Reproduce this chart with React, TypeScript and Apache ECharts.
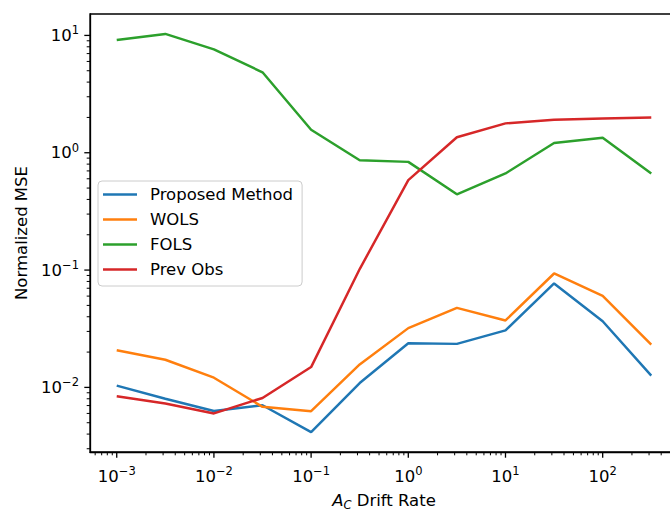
import React, { useEffect, useRef } from 'react';
import * as echarts from 'echarts';

const driftRates = [1e-3, 3.162e-3, 1e-2, 3.162e-2, 1e-1, 3.162e-1, 1, 3.162, 10, 31.62, 100, 316.2];
const proposed = [0.01035, 0.0080, 0.0063, 0.00705, 0.00416, 0.0109, 0.0238, 0.0235, 0.0306, 0.0769, 0.0366, 0.0126];
const wols = [0.0207, 0.0172, 0.0121, 0.00683, 0.00627, 0.0157, 0.032, 0.0476, 0.0372, 0.0935, 0.0603, 0.0231];
const fols = [9.14, 10.3, 7.6, 4.85, 1.57, 0.863, 0.836, 0.442, 0.666, 1.21, 1.34, 0.666];
const prevObs = [0.00841, 0.00728, 0.0060, 0.00813, 0.0149, 0.102, 0.585, 1.355, 1.78, 1.91, 1.96, 2.0];

const seriesNames = ['Proposed Method', 'WOLS', 'FOLS', 'Prev Obs'];
const seriesValues = [proposed, wols, fols, prevObs];
const colors = ['#1f77b4', '#ff7f0e', '#2ca02c', '#d62728'];

const xMajorTicks = [1e-3, 1e-2, 1e-1, 1, 10, 100];
const yMajorTicks = [1e-2, 1e-1, 1, 10];

const FONT = 'DejaVu Sans';
const FS = 16.5;

function logRange(vals: number[]): [number, number] {
  const lo = Math.log10(Math.min(...vals));
  const hi = Math.log10(Math.max(...vals));
  const pad = (hi - lo) * 0.05;
  return [Math.pow(10, lo - pad), Math.pow(10, hi + pad)];
}

function minorTicks(min: number, max: number): number[] {
  const out: number[] = [];
  for (let k = Math.floor(Math.log10(min)); k <= Math.ceil(Math.log10(max)); k++) {
    for (let m = 2; m <= 9; m++) {
      const v = m * Math.pow(10, k);
      if (v >= min && v <= max) out.push(v);
    }
  }
  return out;
}

function supLabel(v: number): string {
  const e = Math.log10(v);
  const r = Math.round(e);
  if (Math.abs(e - r) > 1e-6) return '';
  const s = r < 0 ? '\u2212' + String(-r) : String(r);
  return '{b|10}{sup|' + s + '}';
}

const labelRich = {
  b: { fontFamily: FONT, fontSize: FS, lineHeight: 22, color: '#000' },
  sup: { fontFamily: FONT, fontSize: 11.5, lineHeight: 14, verticalAlign: 'top', color: '#000' },
};

export default function App() {
  const ref = useRef<HTMLDivElement>(null);
  useEffect(() => {
    if (!ref.current) return;
    const chart = echarts.init(ref.current, undefined, { renderer: 'svg' });
    const [xMin, xMax] = logRange(driftRates);
    const [yMin, yMax] = logRange(seriesValues.flat());

    const xTickSeries = (vals: number[], len: number, w: number) => ({
      type: 'custom',
      silent: true,
      clip: false,
      data: vals.map((v) => [v, yMin]),
      renderItem: (_p: any, api: any) => {
        const p = api.coord([api.value(0), api.value(1)]);
        return {
          type: 'line',
          shape: { x1: p[0], y1: p[1], x2: p[0], y2: p[1] + len },
          style: { stroke: '#000', lineWidth: w },
        };
      },
    });
    const yTickSeries = (vals: number[], len: number, w: number) => ({
      type: 'custom',
      silent: true,
      clip: false,
      data: vals.map((v) => [xMin, v]),
      renderItem: (_p: any, api: any) => {
        const p = api.coord([api.value(0), api.value(1)]);
        return {
          type: 'line',
          shape: { x1: p[0], y1: p[1], x2: p[0] - len, y2: p[1] },
          style: { stroke: '#000', lineWidth: w },
        };
      },
    });

    chart.setOption({
      animation: false,
      backgroundColor: '#fff',
      textStyle: { fontFamily: FONT },
      grid: {
        left: 90,
        top: 14,
        width: 588,
        height: 438,
        show: true,
        borderColor: '#000',
        borderWidth: 1.3,
        containLabel: false,
        outerBoundsMode: 'none',
      },
      legend: {
        data: seriesNames,
        orient: 'vertical',
        left: 98,
        top: 181,
        icon: 'rect',
        itemWidth: 34,
        itemHeight: 2.5,
        itemGap: 6,
        backgroundColor: 'rgba(255,255,255,0.8)',
        borderColor: '#cccccc',
        borderWidth: 1,
        borderRadius: 4,
        padding: [4, 9, 7, 5],
        textStyle: { fontFamily: FONT, fontSize: FS, color: '#000', lineHeight: 19, padding: [0, 0, 0, 8] },
      },
      xAxis: {
        type: 'log',
        logBase: 10,
        min: xMin,
        max: xMax,
        axisLine: { show: true, lineStyle: { color: '#000', width: 1.3 } },
        axisTick: { show: false },
        splitLine: { show: false },
        axisLabel: {
          margin: 13,
          formatter: supLabel,
          rich: labelRich,
          showMinLabel: false,
          showMaxLabel: false,
        },
        name: '{i|A}{sub|C}{n| Drift Rate}',
        nameLocation: 'middle',
        nameGap: 38,
        nameTextStyle: {
          rich: {
            i: { fontFamily: FONT, fontSize: FS, fontStyle: 'italic', lineHeight: 21, color: '#000' },
            sub: { fontFamily: FONT, fontSize: 11.5, fontStyle: 'italic', lineHeight: 11.5, verticalAlign: 'bottom', color: '#000' },
            n: { fontFamily: FONT, fontSize: FS, lineHeight: 21, color: '#000' },
          },
        },
      },
      yAxis: {
        type: 'log',
        logBase: 10,
        min: yMin,
        max: yMax,
        axisLine: { show: true, lineStyle: { color: '#000', width: 1.3 } },
        axisTick: { show: false },
        splitLine: { show: false },
        axisLabel: {
          margin: 11,
          formatter: supLabel,
          rich: labelRich,
          showMinLabel: false,
          showMaxLabel: false,
        },
        name: 'Normalized MSE',
        nameLocation: 'middle',
        nameGap: 58,
        nameTextStyle: { fontFamily: FONT, fontSize: FS, color: '#000' },
      },
      series: [
        ...seriesNames.map((name, i) => ({
          name,
          type: 'line',
          data: driftRates.map((x, j) => [x, seriesValues[i][j]]),
          symbol: 'none',
          showSymbol: false,
          color: colors[i],
          lineStyle: { color: colors[i], width: 2.47 },
          silent: true,
        })),
        xTickSeries(xMajorTicks, 5.7, 1.3),
        xTickSeries(minorTicks(xMin, xMax), 3.3, 1),
        yTickSeries(yMajorTicks, 5.7, 1.3),
        yTickSeries(minorTicks(yMin, yMax), 3.3, 1),
      ],
    });
    return () => chart.dispose();
  }, []);
  return <div ref={ref} style={{ position: 'fixed', left: 0, top: 0, width: 670, height: 512 }} />;
}
